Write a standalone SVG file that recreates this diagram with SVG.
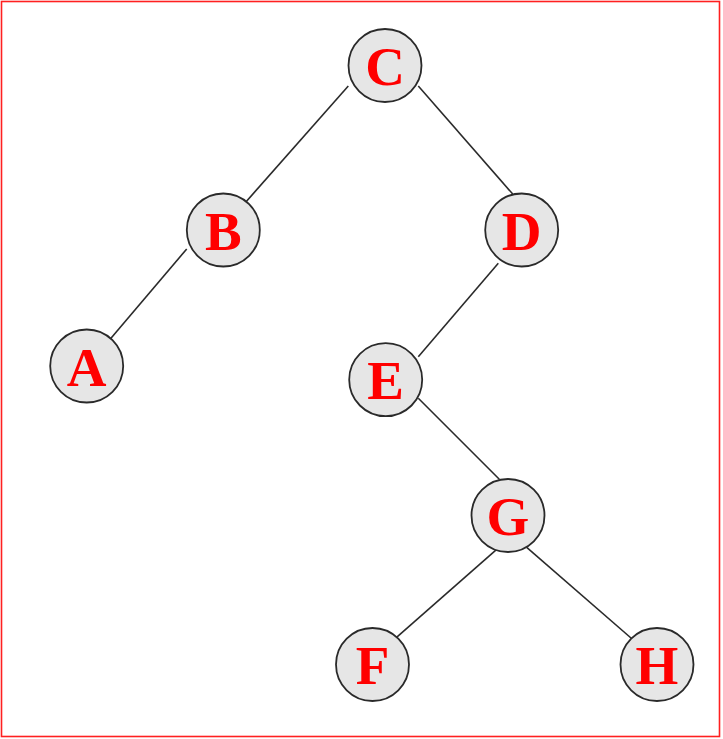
<svg xmlns="http://www.w3.org/2000/svg" width="723" height="739" viewBox="0 0 723 739">
<style>
.node circle{fill:#e6e6e6;stroke:#2a2a2a;stroke-width:1.8}
.node text{fill:#ff0000;font-family:"Liberation Serif","Times New Roman",serif;font-weight:bold;font-size:55px;text-anchor:middle}
.edges line{stroke:#2a2a2a;stroke-width:1.6}
</style>
<rect x="0" y="0" width="723" height="739" fill="#ffffff"/>
<rect x="1.5" y="1.5" width="718" height="735" fill="none" stroke="#ff2020" stroke-width="1.6"/>
<g id="edges" class="edges">
<line x1="348.3" y1="86" x2="241.7" y2="206.7"/>
<line x1="418.3" y1="86" x2="512.7" y2="194"/>
<line x1="186.7" y1="249" x2="106.7" y2="343.3"/>
<line x1="498.3" y1="263.3" x2="418.3" y2="356.7"/>
<line x1="418.3" y1="398.3" x2="499.3" y2="479.3"/>
<line x1="496.7" y1="549.3" x2="391.7" y2="641.7"/>
<line x1="526.7" y1="547.3" x2="633.3" y2="640"/>
</g>
<g id="node-C" class="node"><circle cx="385" cy="65.5" r="36.5"/><text x="385" y="85">C</text></g>
<g id="node-B" class="node"><circle cx="223.3" cy="230" r="36.5"/><text x="223.3" y="249.5">B</text></g>
<g id="node-D" class="node"><circle cx="521.7" cy="230" r="36.5"/><text x="521.7" y="249.5">D</text></g>
<g id="node-A" class="node"><circle cx="86.7" cy="366" r="36.5"/><text x="86.7" y="385.5">A</text></g>
<g id="node-E" class="node"><circle cx="385.7" cy="379.7" r="36.5"/><text x="385.7" y="399.2">E</text></g>
<g id="node-G" class="node"><circle cx="508" cy="515.5" r="36.5"/><text x="508" y="535">G</text></g>
<g id="node-F" class="node"><circle cx="372.5" cy="664.5" r="36.5"/><text x="372.5" y="684">F</text></g>
<g id="node-H" class="node"><circle cx="657" cy="664.5" r="36.5"/><text x="657" y="684">H</text></g>
</svg>
